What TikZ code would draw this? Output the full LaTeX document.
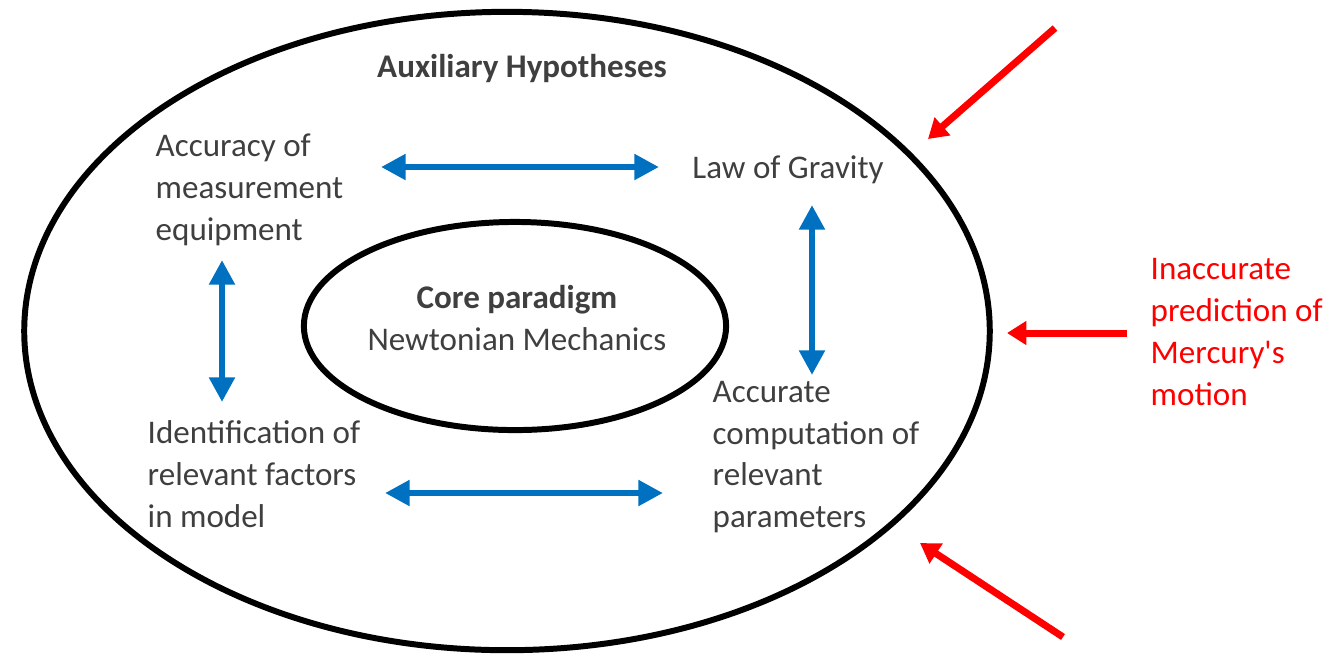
\documentclass[tikz,border=0pt]{standalone}
\usepackage{fontspec}
\setmainfont{Carlito}
\usetikzlibrary{arrows.meta,shapes.geometric}

\definecolor{txtgray}{HTML}{3F3F3F}
\definecolor{arrowblue}{HTML}{0070C0}
\newcommand{\straightq}{\XeTeXglyph\XeTeXcharglyph"27\relax}

\begin{document}
\begin{tikzpicture}[x=0.01cm, y=-0.01cm,
        every node/.style={font=\fontsize{9.4}{11.9}\selectfont, text=txtgray, inner sep=0pt},
        hyp/.style={align=left, anchor=west},
        ring/.style={draw, ellipse, line width=1.7pt},
        link/.style={arrowblue, line width=1.8pt, {Triangle[length=7pt,width=7pt]}-{Triangle[length=7pt,width=7pt]}},
        hit/.style={red, line width=2pt, -{Triangle[length=5.5pt,width=6.5pt]}}]
        \useasboundingbox (0,0) rectangle (1329,656);

        % rings
        \node[ring, minimum width=9.65cm, minimum height=6.38cm] (outer) at (507,331) {};
        \node[ring, minimum width=4.22cm, minimum height=2.08cm] (inner) at (515,326) {};

        % texts
        \node[font=\fontsize{9.4}{11.9}\selectfont\bfseries] (aux) at (522,68) {Auxiliary Hypotheses};
        \node[align=center] (core) at (517,318) {\textbf{Core paradigm}\\Newtonian Mechanics};
        \node[hyp] (acc) at (155,190) {Accuracy of\\measurement\\equipment};
        \node (grav) at (788,170) {Law of Gravity};
        \node[hyp] (ident) at (147,474) {Identification of\\relevant factors\\in model};
        \node[hyp] (comp) at (712,457) {Accurate\\computation of\\relevant\\parameters};
        \node[hyp, text=red] (merc) at (1150,332) {Inaccurate\\prediction of\\Mercury\straightq s\\motion};

        % arrow ends
        \coordinate (accR) at (381,167);
        \coordinate (gravL) at (659,167);
        \coordinate (gravB) at (812,205);
        \coordinate (compT) at (812,375);
        \coordinate (accB) at (222,260);
        \coordinate (identT) at (222,402);
        \coordinate (identR) at (385,493);
        \coordinate (compL) at (663,493);
        \coordinate (topS) at (1055,28);
        \coordinate (topE) at (928,139);
        \coordinate (midS) at (1127,333);
        \coordinate (midE) at (1007,333);
        \coordinate (botS) at (1063,637);
        \coordinate (botE) at (920,543);

        \draw[link] (accR) -- (gravL);
        \draw[link] (gravB) -- (compT);
        \draw[link] (accB) -- (identT);
        \draw[link] (identR) -- (compL);

        \draw[hit] (topS) -- (topE);
        \draw[hit] (midS) -- (midE);
        \draw[hit] (botS) -- (botE);
\end{tikzpicture}
\end{document}
